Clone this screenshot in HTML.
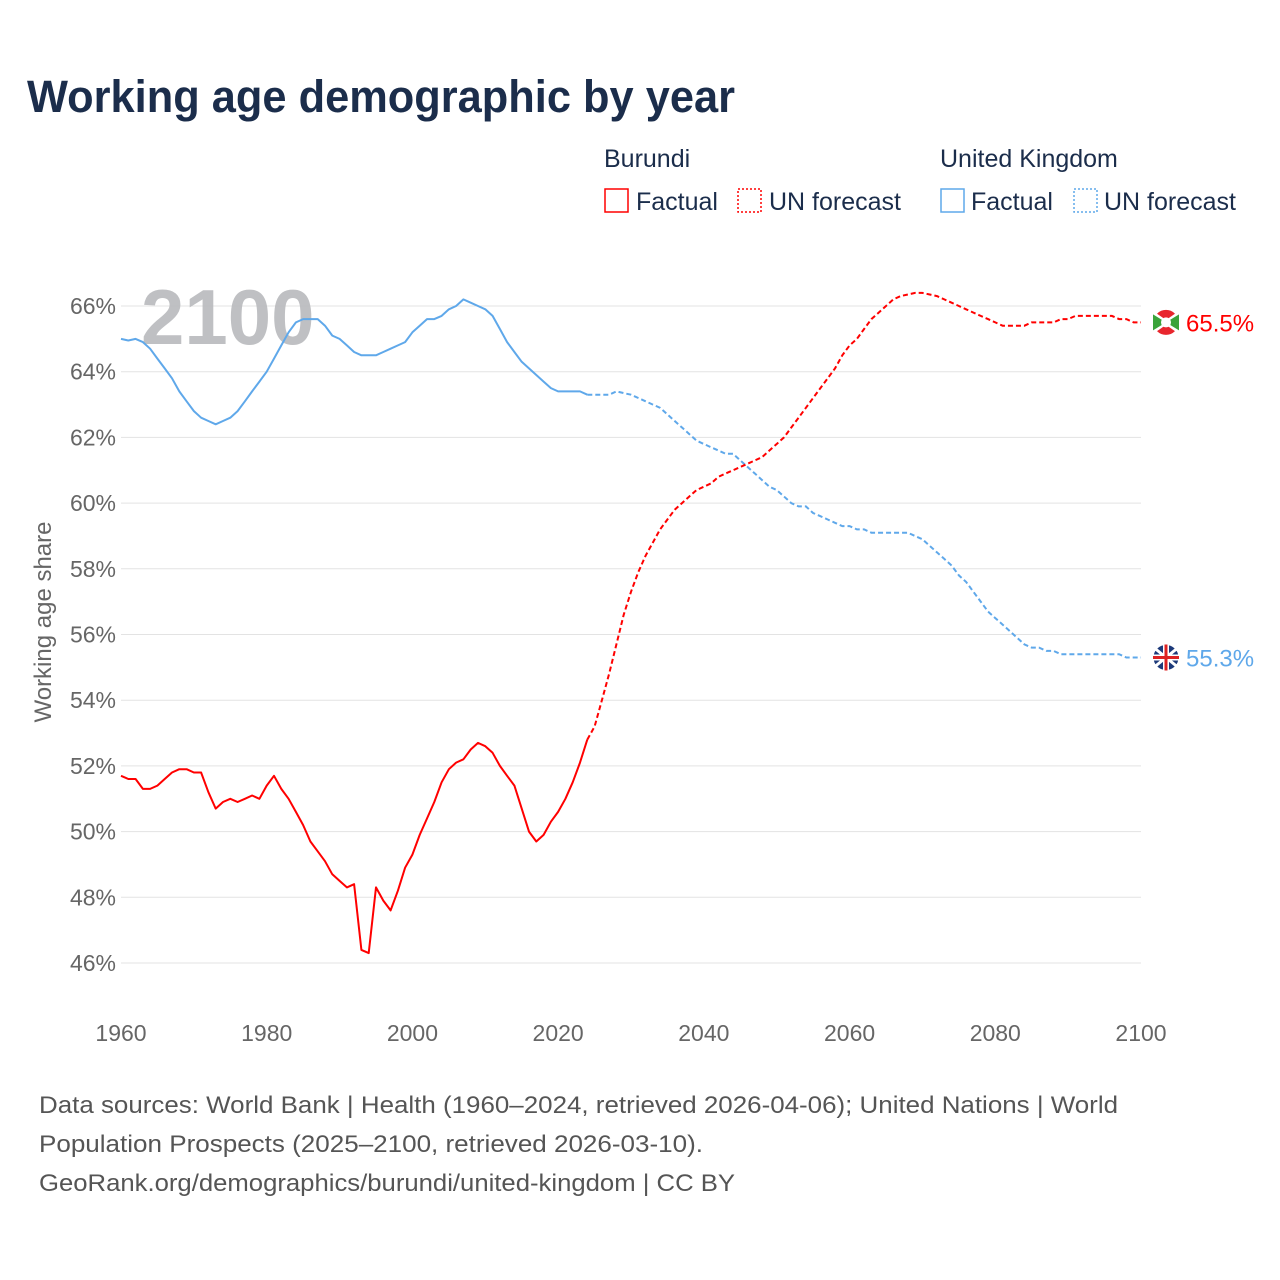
<!DOCTYPE html>
<html><head><meta charset="utf-8">
<style>
body{margin:0;background:#fff;font-family:"Liberation Sans",sans-serif;}
#wrap{position:relative;width:1280px;height:1280px;overflow:hidden;}
</style></head>
<body>
<div id="wrap">
<svg id="chart" width="1280" height="1280">
  <text x="27" y="112" font-size="45" font-weight="bold" fill="#1b2d4b" textLength="708" lengthAdjust="spacingAndGlyphs">Working age demographic by year</text>
  <g font-size="25" fill="#1b2d4b">
    <text x="604" y="167">Burundi</text>
    <rect x="605" y="189" width="23" height="23" fill="none" stroke="#f00" stroke-width="1.5"/>
    <text x="636" y="210">Factual</text>
    <rect x="738" y="189" width="23" height="23" fill="none" stroke="#f00" stroke-width="1.5" stroke-dasharray="2,2"/>
    <text x="769" y="210">UN forecast</text>
    <text x="940" y="167">United Kingdom</text>
    <rect x="941" y="189" width="23" height="23" fill="none" stroke="#5fa8ea" stroke-width="1.5"/>
    <text x="971" y="210">Factual</text>
    <rect x="1074" y="189" width="23" height="23" fill="none" stroke="#5fa8ea" stroke-width="1.5" stroke-dasharray="2,2"/>
    <text x="1104" y="210">UN forecast</text>
  </g>
  <g id="grid"></g>
  <text x="141" y="344" font-size="78" font-weight="bold" fill="#b9babd" opacity="0.9">2100</text>
  <g id="series"></g>
  <text transform="translate(51,622) rotate(-90)" text-anchor="middle" font-size="24" fill="#666">Working age share</text>
  <g font-size="24" fill="#555">
    <text x="39" y="1113" textLength="1079" lengthAdjust="spacingAndGlyphs">Data sources: World Bank | Health (1960–2024, retrieved 2026-04-06); United Nations | World</text>
    <text x="39" y="1152" textLength="664" lengthAdjust="spacingAndGlyphs">Population Prospects (2025–2100, retrieved 2026-03-10).</text>
    <text x="39" y="1191" textLength="696" lengthAdjust="spacingAndGlyphs">GeoRank.org/demographics/burundi/united-kingdom | CC BY</text>
  </g>
</svg>
</div>
<script>
const yearStart = 1960;
const burundiValues = [51.7,51.6,51.6,51.3,51.3,51.4,51.6,51.8,51.9,51.9,51.8,51.8,51.2,50.7,50.9,51.0,50.9,51.0,51.1,51.0,51.4,51.7,51.3,51.0,50.6,50.2,49.7,49.4,49.1,48.7,48.5,48.3,48.4,46.4,46.3,48.3,47.9,47.6,48.2,48.9,49.3,49.9,50.4,50.9,51.5,51.9,52.1,52.2,52.5,52.7,52.6,52.4,52.0,51.7,51.4,50.7,50.0,49.7,49.9,50.3,50.6,51.0,51.5,52.1,52.8,
53.2,54.0,54.8,55.7,56.6,57.3,57.9,58.4,58.8,59.2,59.5,59.8,60.0,60.2,60.4,60.5,60.6,60.8,60.9,61.0,61.1,61.2,61.3,61.4,61.6,61.8,62.0,62.3,62.6,62.9,63.2,63.5,63.8,64.1,64.5,64.8,65.0,65.3,65.6,65.8,66.0,66.2,66.3,66.35,66.4,66.4,66.35,66.3,66.2,66.1,66.0,65.9,65.8,65.7,65.6,65.5,65.4,65.4,65.4,65.4,65.5,65.5,65.5,65.5,65.6,65.6,65.7,65.7,65.7,65.7,65.7,65.7,65.6,65.6,65.5,65.5];
const ukValues = [65.0,64.95,65.0,64.9,64.7,64.4,64.1,63.8,63.4,63.1,62.8,62.6,62.5,62.4,62.5,62.6,62.8,63.1,63.4,63.7,64.0,64.4,64.8,65.2,65.5,65.6,65.6,65.6,65.4,65.1,65.0,64.8,64.6,64.5,64.5,64.5,64.6,64.7,64.8,64.9,65.2,65.4,65.6,65.6,65.7,65.9,66.0,66.2,66.1,66.0,65.9,65.7,65.3,64.9,64.6,64.3,64.1,63.9,63.7,63.5,63.4,63.4,63.4,63.4,63.3,
63.3,63.3,63.3,63.4,63.35,63.3,63.2,63.1,63.0,62.9,62.7,62.5,62.3,62.1,61.9,61.8,61.7,61.6,61.5,61.5,61.3,61.1,60.9,60.7,60.5,60.4,60.2,60.0,59.9,59.9,59.7,59.6,59.5,59.4,59.3,59.3,59.2,59.2,59.1,59.1,59.1,59.1,59.1,59.1,59.0,58.9,58.7,58.5,58.3,58.1,57.8,57.6,57.3,57.0,56.7,56.5,56.3,56.1,55.9,55.7,55.6,55.6,55.5,55.5,55.4,55.4,55.4,55.4,55.4,55.4,55.4,55.4,55.4,55.3,55.3,55.3];
const factualEndYear = 2024;
const yTicks = [46,48,50,52,54,56,58,60,62,64,66];
const xTicks = [1960,1980,2000,2020,2040,2060,2080,2100];

const NS = "http://www.w3.org/2000/svg";
const X0=121, X1=1141, Y66=306, Y46=963;
const xScale = yr => X0 + (yr-1960)*(X1-X0)/140;
const yScale = v => Y66 + (66-v)*(Y46-Y66)/20;
function mk(tag, attrs, parent){const e=document.createElementNS(NS,tag);for(const k in attrs)e.setAttribute(k,attrs[k]);parent.appendChild(e);return e;}

const grid=document.getElementById('grid');
yTicks.forEach(t=>{
  const l=mk('line',{x1:X0,x2:X1,y1:yScale(t),y2:yScale(t),stroke:'#e3e3e3','stroke-width':1},grid);
  
  
  const tx=mk('text',{x:116,y:yScale(t)+8,'text-anchor':'end','font-size':23,fill:'#666'},grid);
  tx.textContent=t+'%';
  
  
});
xTicks.forEach(t=>{
  const tx=mk('text',{x:xScale(t),y:1041,'text-anchor':'middle','font-size':23,fill:'#666'},grid);
  tx.textContent=t;
  
  
});

const ser=document.getElementById('series');
function draw(vals,color,name){
  let a='',b='';
  vals.forEach((v,i)=>{const yr=yearStart+i;const p=xScale(yr).toFixed(1)+','+yScale(v).toFixed(1);
    if(yr<=factualEndYear)a+=(a?'L':'M')+p;
    if(yr>=factualEndYear)b+=(b?'L':'M')+p;});
  const f=mk('path',{d:a,fill:'none',stroke:color,'stroke-width':2,'stroke-linejoin':'round'},ser);
  
  
  const g=mk('path',{d:b,fill:'none',stroke:color,'stroke-width':2,'stroke-dasharray':'5,3'},ser);
  
  
  const last=vals[vals.length-1];
  const cy=yScale(last);
  const c=mk('circle',{cx:1166,cy:cy,r:13,fill:color==='#f00'?'#e8262d':'#1d3a7a',stroke:'#fff','stroke-width':1},ser);
  
  
  if(name==='burundi'){
    mk('path',{d:`M1153,${cy-9}L1179,${cy+9}M1153,${cy+9}L1179,${cy-9}`,stroke:'#fff','stroke-width':4},ser);
    mk('path',{d:`M1153,${cy-8}L1166,${cy}L1153,${cy+8}Z M1179,${cy-8}L1166,${cy}L1179,${cy+8}Z`,fill:'#3aa33a'},ser);
    mk('circle',{cx:1166,cy:cy,r:5,fill:'#fff'},ser);
  } else {
    mk('path',{d:`M1155,${cy-9}L1177,${cy+9}M1155,${cy+9}L1177,${cy-9}`,stroke:'#fff','stroke-width':3},ser);
    mk('path',{d:`M1153,${cy}H1179M1166,${cy-13}V${cy+13}`,stroke:'#fff','stroke-width':6},ser);
    mk('path',{d:`M1153,${cy}H1179M1166,${cy-13}V${cy+13}`,stroke:'#d22','stroke-width':3},ser);
  }
  const t=mk('text',{x:1186,y:cy+9,'font-size':24,fill:color==='#f00'?'#f00':'#5fa8ea'},ser);
  t.textContent=last.toFixed(1)+'%';
  
  
}
draw(ukValues,'#5fa8ea','uk');
draw(burundiValues,'#f00','burundi');
</script>
</body></html>
